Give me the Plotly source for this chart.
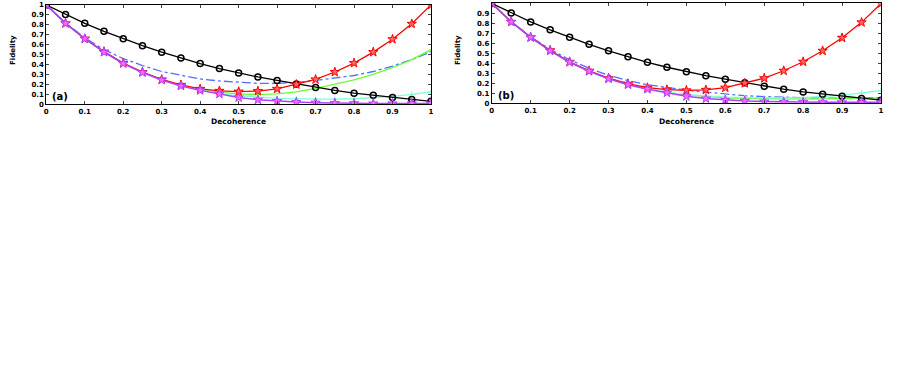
"""Fidelity vs decoherence, two panels (a) and (b)."""

import plotly.graph_objects as go
from plotly.subplots import make_subplots

decoherence = [round(0.05 * i, 2) for i in range(21)]

# shared curves
black = [1.0, 0.905, 0.815, 0.735, 0.66, 0.59, 0.525, 0.465, 0.41, 0.36, 0.315,
         0.275, 0.24, 0.205, 0.17, 0.14, 0.112, 0.09, 0.068, 0.047, 0.03]
red = [1.0, 0.815, 0.66, 0.53, 0.415, 0.325, 0.25, 0.195, 0.155, 0.135, 0.128,
       0.133, 0.155, 0.2, 0.25, 0.325, 0.415, 0.525, 0.655, 0.81, 1.0]
magenta = [1.0, 0.815, 0.66, 0.525, 0.41, 0.32, 0.245, 0.185, 0.14, 0.105, 0.068,
           0.046, 0.032, 0.022, 0.016, 0.012, 0.01, 0.008, 0.008, 0.008, 0.008]

# panel (a)
blue_a = [1.0, 0.82, 0.67, 0.55, 0.46, 0.39, 0.33, 0.29, 0.255, 0.235, 0.22,
          0.21, 0.21, 0.22, 0.24, 0.265, 0.29, 0.33, 0.385, 0.45, 0.53]
green_a = [1.0, 0.815, 0.66, 0.527, 0.413, 0.322, 0.248, 0.19, 0.147, 0.12, 0.105,
           0.098, 0.105, 0.125, 0.16, 0.2, 0.245, 0.3, 0.37, 0.45, 0.55]
cyan_a = [1.0, 0.815, 0.66, 0.526, 0.412, 0.321, 0.247, 0.188, 0.143, 0.11, 0.085,
          0.07, 0.06, 0.055, 0.052, 0.052, 0.056, 0.065, 0.08, 0.1, 0.125]

# panel (b)
blue_b = [1.0, 0.82, 0.665, 0.54, 0.435, 0.35, 0.28, 0.225, 0.185, 0.155, 0.13,
          0.11, 0.09, 0.075, 0.065, 0.058, 0.053, 0.05, 0.05, 0.052, 0.055]
green_b = [1.0, 0.815, 0.66, 0.526, 0.412, 0.321, 0.246, 0.187, 0.142, 0.108, 0.082,
           0.065, 0.054, 0.047, 0.043, 0.041, 0.041, 0.042, 0.044, 0.047, 0.05]
cyan_b = [1.0, 0.815, 0.66, 0.526, 0.412, 0.321, 0.247, 0.188, 0.143, 0.11, 0.085,
          0.07, 0.06, 0.055, 0.052, 0.052, 0.056, 0.065, 0.08, 0.1, 0.127]

panels = [("(a)", blue_a, green_a, cyan_a), ("(b)", blue_b, green_b, cyan_b)]

FONT = dict(family="DejaVu Sans", size=7, color="black")
TICKS = [i / 10 for i in range(11)]
TICKTEXT = ["<b>0</b>"] + [f"<b>0.{i}</b>" for i in range(1, 10)] + ["<b>1</b>"]

fig = make_subplots(rows=1, cols=2)

for col, (tag, blue, green, cyan) in enumerate(panels, start=1):
    traces = [
        go.Scatter(x=decoherence, y=blue, mode="lines",
                   line=dict(color="#4f6fff", width=1.3, dash="dashdot")),
        go.Scatter(x=decoherence, y=green, mode="lines",
                   line=dict(color="#66ff33", width=1.3)),
        go.Scatter(x=decoherence, y=cyan, mode="lines+markers",
                   line=dict(color="#7fffd4", width=1.3),
                   marker=dict(symbol="cross-thin-open", size=4,
                               line=dict(color="#7fffd4", width=1))),
        go.Scatter(x=decoherence, y=black, mode="lines+markers",
                   line=dict(color="black", width=1.3),
                   marker=dict(symbol="circle-open", size=6,
                               line=dict(color="black", width=1.5))),
        go.Scatter(x=decoherence, y=red, mode="lines+markers",
                   line=dict(color="red", width=1.3),
                   marker=dict(symbol="star", size=7, color="#ff6666",
                               line=dict(color="red", width=1))),
        go.Scatter(x=decoherence, y=magenta, mode="lines+markers",
                   line=dict(color="#b040ff", width=1.5),
                   marker=dict(symbol="star", size=7, color="#ff66ff",
                               line=dict(color="#b040ff", width=1))),
    ]
    for tr in traces:
        tr.showlegend = False
        fig.add_trace(tr, row=1, col=col)

fig.update_xaxes(range=[0, 1], tickvals=TICKS, ticktext=TICKTEXT,
                 ticks="inside", ticklen=3, showgrid=False, zeroline=False,
                 showline=True, linecolor="black", linewidth=1, mirror="ticks",
                 tickfont=FONT, automargin=False)
fig.update_yaxes(range=[0, 1], tickvals=TICKS, ticktext=TICKTEXT,
                 ticks="inside", ticklen=3, showgrid=False, zeroline=False,
                 showline=True, linecolor="black", linewidth=1, mirror="ticks",
                 tickfont=FONT, automargin=False)

fig.update_layout(
    xaxis=dict(domain=[0.0515, 0.4794]),
    xaxis2=dict(domain=[0.547, 0.980]),
    yaxis=dict(domain=[0.727, 0.987]),
    yaxis2=dict(domain=[0.730, 0.991]),
)

for tag, xr, yr in [("(a)", "x", "y"), ("(b)", "x2", "y2")]:
    fig.add_annotation(text=f"<b>{tag}</b>", x=0.01, y=0.0, xref=xr, yref=yr,
                       xanchor="left", yanchor="bottom", showarrow=False,
                       font=dict(family="DejaVu Sans", size=10, color="black"))

for xc in [238 / 899, 686 / 899]:
    fig.add_annotation(text="<b>Decoherence</b>", x=xc, y=1 - 114.5 / 382,
                       xref="paper", yref="paper", xanchor="center",
                       yanchor="top", showarrow=False,
                       font=dict(family="DejaVu Sans", size=7.5, color="black"))
for xc in [13 / 899, 458 / 899]:
    fig.add_annotation(text="<b>Fidelity</b>", x=xc, y=1 - 50 / 382,
                       xref="paper", yref="paper", xanchor="center",
                       yanchor="middle", showarrow=False, textangle=-90,
                       font=FONT)

fig.update_layout(
    width=899,
    height=382,
    margin=dict(l=0, r=0, t=0, b=0),
    paper_bgcolor="white",
    plot_bgcolor="white",
    font=FONT,
)

fig.write_html("out.html", config={"displayModeBar": False},
               post_script="document.body.style.margin='0';")
